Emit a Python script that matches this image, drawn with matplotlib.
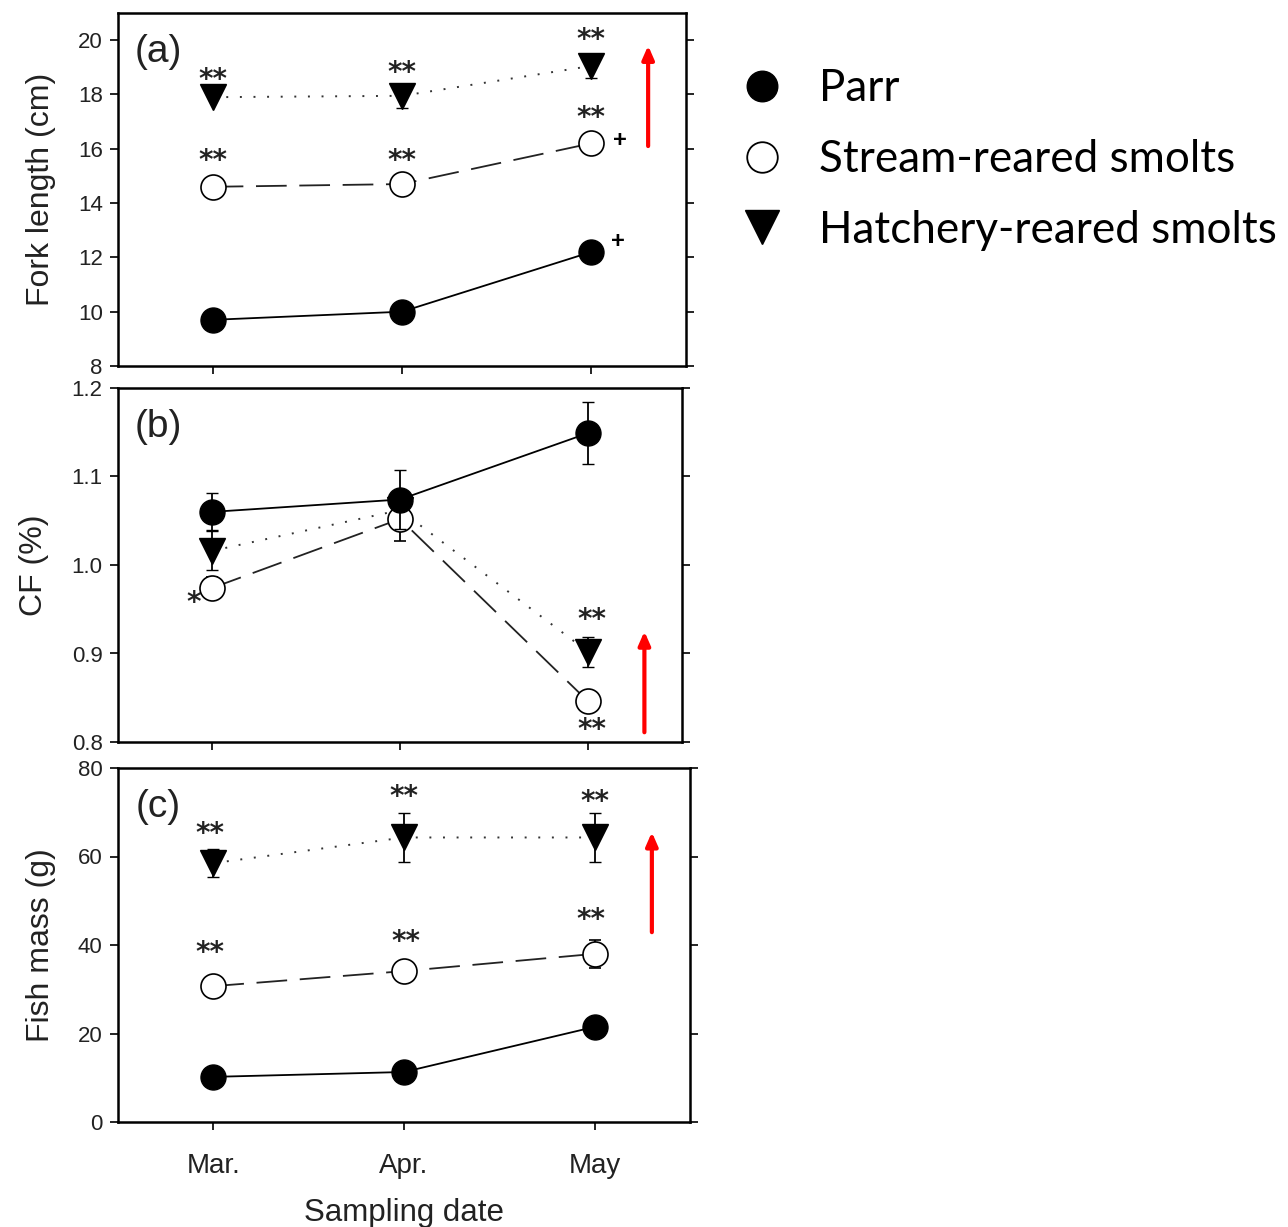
import numpy as np
import matplotlib
matplotlib.use('Agg')
import matplotlib.pyplot as plt
from matplotlib.lines import Line2D

plt.rcParams['font.family'] = ['Liberation Sans', 'DejaVu Sans']

# Sampling dates
months = ["Mar.", "Apr.", "May"]
x_pos = [1, 2, 3]

# (a) Fork length (cm)
fl_parr = [9.7, 10.0, 12.2]
fl_stream = [14.6, 14.7, 16.2]
fl_stream_err = [0.0, 0.0, 0.3]
fl_hatch = [17.9, 17.95, 19.05]
fl_hatch_err = [0.0, 0.45, 0.45]

# (b) Condition factor (%)
cf_parr = [1.060, 1.074, 1.149]
cf_parr_err = [0.021, 0.033, 0.035]
cf_stream = [0.974, 1.052, 0.846]
cf_stream_err = [0.012, 0.025, 0.0]
cf_hatch = [1.016, 1.062, 0.902]
cf_hatch_err = [0.022, 0.02, 0.017]

# (c) Fish mass (g)
fm_parr = [10.2, 11.3, 21.5]
fm_stream = [30.7, 34.1, 38.0]
fm_stream_err = [0.0, 2.0, 3.2]
fm_hatch = [58.5, 64.3, 64.3]
fm_hatch_err = [3.2, 5.6, 5.6]

# significance stars: (x, y, text)
stars_a = [(1, 18.72, "**"), (2, 18.98, "**"), (3, 20.19, "**"),
           (1, 15.73, "**"), (2, 15.73, "**"), (3, 17.32, "**")]
plus_a = [(3.15, 16.3, "+"), (3.14, 12.6, "+")]
stars_b = [(0.9, 0.963, "*"), (3.02, 0.9435, "**"), (3.02, 0.819, "**")]
stars_c = [(0.98, 66.2, "**"), (2.0, 74.6, "**"), (3.0, 73.4, "**"),
           (0.98, 39.3, "**"), (2.01, 41.8, "**"), (2.98, 46.8, "**")]

# red arrows: (x, y_start, y_end)
arrow_a = (3.30, 16.1, 19.8)
arrow_b = (3.30, 0.811, 0.925)
arrow_c = (3.30, 42.9, 65.5)

fig = plt.figure(figsize=(12.88, 12.27), dpi=100)
ax_a = fig.add_axes([118 / 1288, 1 - 366 / 1227, 568 / 1288, 353 / 1227])
ax_b = fig.add_axes([118 / 1288, 1 - 742 / 1227, 564 / 1288, 354 / 1227])
ax_c = fig.add_axes([118 / 1288, 1 - 1122 / 1227, 572 / 1288, 354 / 1227])

parr_style = dict(color="black", linestyle="-", lw=1.3, marker="o", ms=18,
                  mfc="black", mec="black", ecolor="black", capsize=4.5, elinewidth=1.3)
stream_style = dict(color="#222222", linestyle=(0, (17, 7)), lw=1.3, marker="o", ms=18,
                    mfc="white", mec="black", mew=1.2, ecolor="black", capsize=4.5, elinewidth=1.3)
hatch_style = dict(color="#333333", linestyle=(0, (1, 6)), lw=1.4, marker="v", ms=19,
                   mfc="black", mec="black", ecolor="black", capsize=4.5, elinewidth=1.3)

STAR_FS = 20


def draw_panel(ax, parr, parr_err, stream, stream_err, hatch, hatch_err,
               ylim, yticks, ylabel, tag, stars, arrow):
    ax.errorbar(x_pos, hatch, yerr=hatch_err, zorder=2, **hatch_style)
    ax.errorbar(x_pos, stream, yerr=stream_err, zorder=3, **stream_style)
    ax.errorbar(x_pos, parr, yerr=parr_err, zorder=4, **parr_style)
    ax.set_xlim(0.5, 3.5)
    ax.set_ylim(*ylim)
    ax.set_yticks(yticks)
    ax.set_xticks(x_pos)
    ax.tick_params(axis="both", direction="out", length=6, width=1.2,
                   labelsize=16, right=True, pad=5, labelcolor="#222222")
    for sp in ax.spines.values():
        sp.set_linewidth(1.8)
    ax.set_ylabel(ylabel, fontsize=23, labelpad=16, color="#222222")
    ax.text(0.03, 0.89, tag, transform=ax.transAxes, fontsize=28, va="center",
            color="#222222")
    # stars: y is the glyph centre, so shift the baseline down
    for x, y, t in stars:
        ax.annotate(t, (x, y), xytext=(0, -0.46 * STAR_FS), textcoords="offset points",
                    fontsize=STAR_FS, ha="center", va="baseline", fontweight="bold",
                    family="DejaVu Sans", color="#222222")
    xa, y0, y1 = arrow
    ax.annotate("", xy=(xa, y1), xytext=(xa, y0),
                arrowprops=dict(arrowstyle="-|>,head_width=0.35,head_length=0.8",
                                color="red", lw=3, shrinkA=0, shrinkB=0))


draw_panel(ax_a, fl_parr, None, fl_stream, fl_stream_err, fl_hatch, fl_hatch_err,
           (8, 21), np.arange(8, 21, 2), "Fork length (cm)", "(a)", stars_a, arrow_a)
draw_panel(ax_b, cf_parr, cf_parr_err, cf_stream, cf_stream_err, cf_hatch, cf_hatch_err,
           (0.8, 1.2), [0.8, 0.9, 1.0, 1.1, 1.2], "CF (%)", "(b)", stars_b, arrow_b)
draw_panel(ax_c, fm_parr, None, fm_stream, fm_stream_err, fm_hatch, fm_hatch_err,
           (0, 80), np.arange(0, 81, 20), "Fish mass (g)", "(c)", stars_c, arrow_c)

for x, y, t in plus_a:
    ax_a.text(x, y, t, fontsize=17, ha="center", va="center", fontweight="bold")

ax_b.set_yticklabels(["0.8", "0.9", "1.0", "1.1", "1.2"])
ax_a.set_xticklabels([])
ax_b.set_xticklabels([])
ax_c.set_xticklabels(months, fontsize=20)
ax_c.tick_params(axis="x", pad=16)
ax_c.set_xlabel("Sampling date", fontsize=22.5, labelpad=14, color="#222222")

# legend
handles = [
    Line2D([], [], linestyle="none", marker="o", ms=22, mfc="black", mec="black"),
    Line2D([], [], linestyle="none", marker="o", ms=22, mfc="white", mec="black", mew=1.3),
    Line2D([], [], linestyle="none", marker="v", ms=24, mfc="black", mec="black"),
]
labels = ["Parr", "Stream-reared smolts", "Hatchery-reared smolts"]
fig.legend(handles, labels, loc="upper left", bbox_to_anchor=(740 / 1288, 1 - 68 / 1227),
           frameon=False, prop={"family": "Lato", "size": 31.7}, handlelength=1.0,
           handletextpad=0.8, labelspacing=0.68, borderpad=0, borderaxespad=0)

fig.savefig("out.png", dpi=100)
